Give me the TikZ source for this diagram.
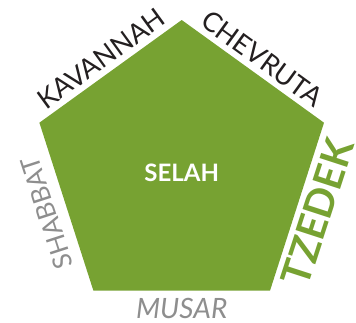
\documentclass[tikz,border=0pt]{standalone}
\usepackage{fontspec}
\setmainfont{Lato}
\definecolor{pgreen}{HTML}{77A232}
\definecolor{lblgray}{HTML}{8E8E8E}
\definecolor{lblblack}{HTML}{231F20}
\begin{document}
\begin{tikzpicture}[x=1pt,y=-1pt,
  edgelbl/.style={inner sep=0pt, font=\fontsize{27}{27}\selectfont, text=lblblack},
  graylbl/.style={inner sep=0pt, text=lblgray}]
\useasboundingbox (0,0) rectangle (356,322);
\coordinate (T) at (181.7,20);
\coordinate (R) at (324,122.7);
\coordinate (BR) at (270,290.7);
\coordinate (BL) at (93.4,290.7);
\coordinate (L) at (39.4,122.7);
\fill[pgreen] (T) -- (R) -- (BR) -- (BL) -- (L) -- cycle;
\node[inner sep=0pt, text=white, font=\fontsize{24}{24}\selectfont\bfseries] (selah) at (181.7,173) {SELAH};
\node[edgelbl, rotate=36] (kav) at (101.2,58.6) {KAVANNAH};
\node[edgelbl, rotate=-36] (chev) at (262.3,58.6) {CHEVRUTA};
\node[inner sep=0pt, text=pgreen, font=\fontsize{40}{40}\selectfont\bfseries, rotate=72] (tzedek) at (317.5,212) {TZEDEK};
\node[graylbl, font=\fontsize{26}{26}\selectfont, rotate=108] (shabbat) at (47,213) {SHABBAT};
\node[graylbl, font=\fontsize{28}{28}\selectfont\itshape] (musar) at (181.7,308.5) {MUSAR};
\end{tikzpicture}
\end{document}
